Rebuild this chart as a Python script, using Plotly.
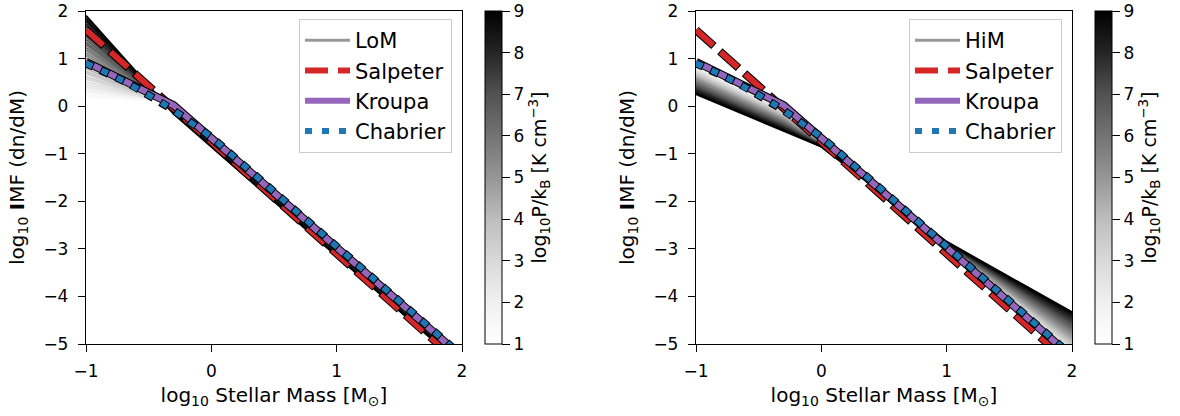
import plotly.graph_objects as go
from plotly.colors import sample_colorscale

# ---------------------------------------------------------------------------
# Data
# ---------------------------------------------------------------------------
# pressure levels (log10 P/k_B) of the model IMF family
pressure = [1.0, 1.25, 1.5, 1.75, 2.0, 2.25, 2.5, 2.75, 3.0, 3.25, 3.5, 3.75,
            4.0, 4.25, 4.5, 4.75, 5.0, 5.25, 5.5, 5.75, 6.0, 6.25, 6.5, 6.75,
            7.0, 7.25, 7.5, 7.75, 8.0, 8.25, 8.5, 8.75, 9.0]

# LoM model: broken power law, nodes at log M = -1, log 0.5, 2
lom_x = [-1.0, -0.301, 2.0]
lom_y_lo = [0.12, 0.18, 0.23, 0.29, 0.34, 0.40, 0.45, 0.51, 0.57, 0.62, 0.68,
            0.73, 0.79, 0.84, 0.90, 0.95, 1.01, 1.07, 1.12, 1.18, 1.23, 1.29,
            1.34, 1.40, 1.46, 1.51, 1.57, 1.62, 1.68, 1.73, 1.79, 1.84, 1.90]
lom_y_knee = [0.12, 0.11, 0.10, 0.09, 0.09, 0.08, 0.07, 0.06, 0.05, 0.04,
              0.03, 0.02, 0.02, 0.01, 0.00, -0.01, -0.02, -0.03, -0.04, -0.05,
              -0.06, -0.06, -0.07, -0.08, -0.09, -0.10, -0.11, -0.12, -0.13,
              -0.13, -0.14, -0.15, -0.16]
lom_y_hi = [-5.17, -5.18, -5.19, -5.20, -5.21, -5.21, -5.22, -5.23, -5.24,
            -5.25, -5.26, -5.27, -5.28, -5.28, -5.29, -5.30, -5.31, -5.32,
            -5.33, -5.34, -5.35, -5.35, -5.36, -5.37, -5.38, -5.39, -5.40,
            -5.41, -5.42, -5.42, -5.43, -5.44, -5.45]

# HiM model: nodes at log M = -1, log 0.5, 0, 1, 2
him_x = [-1.0, -0.301, 0.0, 1.0, 2.0]
him_y_lo = [0.88, 0.86, 0.84, 0.82, 0.80, 0.78, 0.76, 0.74, 0.72, 0.70, 0.68,
            0.66, 0.64, 0.62, 0.60, 0.59, 0.57, 0.55, 0.53, 0.51, 0.49, 0.47,
            0.45, 0.43, 0.41, 0.39, 0.37, 0.35, 0.33, 0.31, 0.29, 0.27, 0.25]
him_y_knee = [-0.03, -0.05, -0.06, -0.08, -0.09, -0.11, -0.12, -0.14, -0.15,
              -0.17, -0.18, -0.20, -0.21, -0.23, -0.24, -0.26, -0.28, -0.29,
              -0.31, -0.32, -0.34, -0.35, -0.37, -0.38, -0.40, -0.41, -0.43,
              -0.44, -0.46, -0.47, -0.49, -0.50, -0.52]
him_y_mid = [-0.72, -0.72, -0.73, -0.73, -0.74, -0.74, -0.74, -0.75, -0.75,
             -0.76, -0.76, -0.76, -0.77, -0.77, -0.78, -0.78, -0.79, -0.79,
             -0.79, -0.80, -0.80, -0.81, -0.81, -0.81, -0.82, -0.82, -0.83,
             -0.83, -0.83, -0.84, -0.84, -0.85, -0.85]
him_y_ten = [-3.02, -3.01, -3.01, -3.00, -3.00, -2.99, -2.99, -2.98, -2.97,
             -2.97, -2.96, -2.96, -2.96, -2.95, -2.95, -2.94, -2.94, -2.93,
             -2.92, -2.92, -2.91, -2.91, -2.90, -2.90, -2.89, -2.89, -2.88,
             -2.88, -2.87, -2.87, -2.86, -2.86, -2.85]
him_y_hi = [-5.32, -5.29, -5.26, -5.23, -5.20, -5.17, -5.13, -5.10, -5.07,
            -5.04, -5.01, -4.98, -4.95, -4.92, -4.89, -4.86, -4.83, -4.79,
            -4.76, -4.73, -4.70, -4.67, -4.64, -4.61, -4.58, -4.55, -4.52,
            -4.49, -4.45, -4.42, -4.39, -4.36, -4.33]

# reference IMFs
salpeter_x = [-1.0, 2.0]
salpeter_y = [1.60, -5.45]
kroupa_x = [-1.0, -0.301, 2.0]
kroupa_y = [0.93, 0.02, -5.27]
chabrier_x = [-1.0, -0.9, -0.8, -0.7, -0.6, -0.5, -0.4, -0.3, -0.2, -0.1,
              0.0, 2.0]
chabrier_y = [0.90, 0.79, 0.66, 0.53, 0.39, 0.24, 0.08, -0.09, -0.27, -0.45,
              -0.65, -5.25]

axis_ticks = [-1, 0, 1, 2]
imf_ticks = [-5, -4, -3, -2, -1, 0, 1, 2]
cbar_ticks = [1, 2, 3, 4, 5, 6, 7, 8, 9]

# ---------------------------------------------------------------------------
# Style
# ---------------------------------------------------------------------------
FONT = "DejaVu Sans"
W, H = 1180, 416
greys = [[0.0, "#ffffff"], [0.125, "#f0f0f0"], [0.25, "#d9d9d9"],
         [0.375, "#bdbdbd"], [0.5, "#969696"], [0.625, "#737373"],
         [0.75, "#525252"], [0.875, "#252525"], [1.0, "#000000"]]
P_MIN, P_MAX = 1.0, 9.0

RED, PURPLE, BLUE = "#d62728", "#9467bd", "#1f77b4"

# panel geometry in pixels
PLOT_TOP, PLOT_BOT = 11, 344
panels = [
    dict(x0=86, x1=462, cb=485, xa="x", ya="y", leg="legend", name="LoM",
         lx=lom_x, ys=[lom_y_lo, lom_y_knee, lom_y_hi]),
    dict(x0=696, x1=1072, cb=1095, xa="x2", ya="y2", leg="legend2", name="HiM",
         lx=him_x, ys=[him_y_lo, him_y_knee, him_y_mid, him_y_ten, him_y_hi]),
]

fig = go.Figure()

for pn in panels:
    xa, ya, leg = pn["xa"], pn["ya"], pn["leg"]
    common = dict(xaxis=xa, yaxis=ya, legend=leg, hoverinfo="skip")

    # legend swatch for the model family
    fig.add_trace(go.Scatter(x=[None], y=[None], mode="lines", name=pn["name"],
                             line=dict(color="#999999", width=3),
                             legendgroup=pn["name"], **common))

    # model family, drawn from low to high pressure
    for i, p in enumerate(pressure):
        col = sample_colorscale(greys, [(p - P_MIN) / (P_MAX - P_MIN)])[0]
        fig.add_trace(go.Scatter(
            x=pn["lx"], y=[arr[i] for arr in pn["ys"]], mode="lines",
            line=dict(color=col, width=2), showlegend=False,
            legendgroup=pn["name"], **common))

    # colour bar carrier
    cb_len = (PLOT_BOT - PLOT_TOP) / H
    fig.add_trace(go.Scatter(
        x=[None] * len(pressure), y=[None] * len(pressure), mode="markers",
        showlegend=False,
        marker=dict(color=pressure, colorscale=greys, cmin=P_MIN, cmax=P_MAX,
                    size=1, showscale=True,
                    colorbar=dict(
                        x=pn["cb"] / W, xanchor="left", xpad=0, ypad=0,
                        y=1 - (PLOT_TOP + PLOT_BOT) / 2 / H, yanchor="middle",
                        len=cb_len, lenmode="fraction", thickness=17,
                        outlinecolor="black", outlinewidth=1,
                        tickvals=cbar_ticks, ticks="outside", ticklen=8,
                        tickwidth=1.2, tickcolor="black",
                        tickfont=dict(family=FONT, size=17, color="black"),
                        title=dict(text="log<sub>10</sub>P/k<sub>B</sub> [K cm<sup>−3</sup>]",
                                   side="right",
                                   font=dict(family=FONT, size=19, color="black")),
                    )),
        **common))

    # reference IMFs with dark outlines
    fig.add_trace(go.Scatter(x=salpeter_x, y=salpeter_y, mode="lines",
                             line=dict(color="black", width=8,
                                       dash="24px,8px,1px,0px"),
                             showlegend=False, legendgroup="sal", **common))
    fig.add_trace(go.Scatter(x=salpeter_x, y=salpeter_y, mode="lines",
                             name="Salpeter", legendgroup="sal",
                             line=dict(color=RED, width=6, dash="23px,10px"),
                             **common))
    fig.add_trace(go.Scatter(x=kroupa_x, y=kroupa_y, mode="lines",
                             line=dict(color="black", width=8),
                             showlegend=False, legendgroup="kro", **common))
    fig.add_trace(go.Scatter(x=kroupa_x, y=kroupa_y, mode="lines",
                             name="Kroupa", legendgroup="kro",
                             line=dict(color=PURPLE, width=6), **common))
    fig.add_trace(go.Scatter(x=chabrier_x, y=chabrier_y, mode="lines",
                             line=dict(color="black", width=8,
                                       dash="8px,8px,1px,0px"),
                             showlegend=False, legendgroup="cha", **common))
    fig.add_trace(go.Scatter(x=chabrier_x, y=chabrier_y, mode="lines",
                             name="Chabrier", legendgroup="cha",
                             line=dict(color=BLUE, width=6, dash="7px,10px"),
                             **common))

axis_style = dict(showline=True, mirror=True, linecolor="black", linewidth=1.3,
                  ticks="outside", ticklen=7, tickwidth=1.3, tickcolor="black",
                  showgrid=False, zeroline=False, automargin=False,
                  tickfont=dict(family=FONT, size=17, color="black"))
ydom = [1 - PLOT_BOT / H, 1 - PLOT_TOP / H]
xtitle = "log<sub>10</sub> Stellar Mass [M<sub>⊙</sub>]"
ytitle = "log<sub>10</sub> <b>I</b>MF (dn/dM)"

layout = dict(
    width=W, height=H, margin=dict(l=0, r=0, t=0, b=0),
    paper_bgcolor="white", plot_bgcolor="white",
    font=dict(family=FONT, color="black"),
)
for pn in panels:
    xk = "xaxis" if pn["xa"] == "x" else "xaxis2"
    yk = "yaxis" if pn["ya"] == "y" else "yaxis2"
    layout[xk] = dict(domain=[pn["x0"] / W, pn["x1"] / W], anchor=pn["ya"],
                      range=[-1, 2], tickvals=axis_ticks, ticklabelstandoff=4,
                      title=dict(text=xtitle, standoff=8,
                                 font=dict(family=FONT, size=20, color="black")),
                      **axis_style)
    layout[yk] = dict(domain=ydom, anchor=pn["xa"], range=[-5, 2],
                      tickvals=imf_ticks, ticklabelstandoff=6,
                      title=dict(text=ytitle, standoff=13,
                                 font=dict(family=FONT, size=20, color="black")),
                      **axis_style)
    legend_style = dict(x=(pn["x1"] - 10) / W, xanchor="right",
                        y=1 - 19 / H, yanchor="top",
                        bgcolor="rgba(255,255,255,0.85)", bordercolor="#cccccc",
                        borderwidth=1, tracegroupgap=0, itemwidth=45,
                        font=dict(family=FONT, size=21, color="black"))
    layout[pn["leg"]] = legend_style

fig.update_layout(**layout)
fig.write_html("out.html")
